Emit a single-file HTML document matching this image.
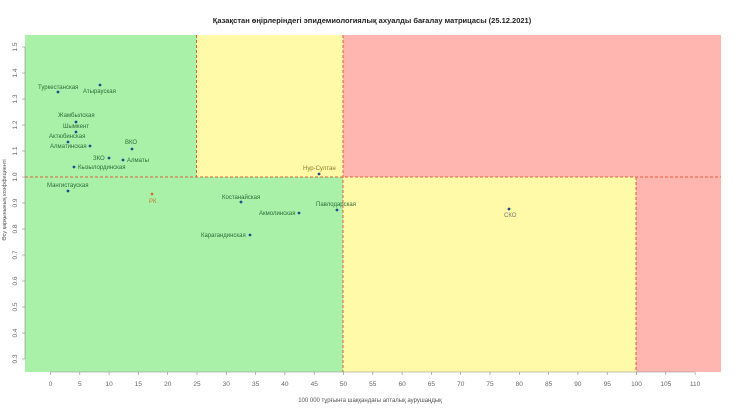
<!DOCTYPE html>
<html><head><meta charset="utf-8"><style>
body{margin:0;background:#fff;}
svg{display:block;font-family:"Liberation Sans",sans-serif;}
</style></head><body>
<svg width="740" height="414" xmlns="http://www.w3.org/2000/svg">
<rect width="740" height="414" fill="#fff"/>
<text x="372" y="23" text-anchor="middle" font-size="7.5" font-weight="bold" fill="#222">Қазақстан өңірлеріндегі эпидемиологиялық ахуалды бағалау матрицасы  (25.12.2021)</text>
<!-- zones -->
<rect x="25" y="35" width="171.5" height="142" fill="#a9f0a9"/>
<rect x="196.5" y="35" width="146.5" height="142" fill="#fffaa8"/>
<rect x="343" y="35" width="378" height="142" fill="#ffb5b0"/>
<rect x="25" y="177" width="318" height="195" fill="#a9f0a9"/>
<rect x="343" y="177" width="293" height="195" fill="#fffaa8"/>
<rect x="636" y="177" width="85" height="195" fill="#ffb5b0"/>
<g stroke="#e0603a" stroke-width="1" stroke-dasharray="3,2" fill="none">
<line x1="25" y1="177" x2="721" y2="177"/>
<line x1="196.5" y1="35" x2="196.5" y2="177"/>
<line x1="343" y1="35" x2="343" y2="372"/>
<line x1="636" y1="177" x2="636" y2="372"/>
</g>
<g stroke="#888" stroke-width="0.6">
<line x1="50.5" y1="372" x2="694.5" y2="372"/>
<line x1="50.5" y1="372" x2="50.5" y2="375"/><line x1="79.8" y1="372" x2="79.8" y2="375"/><line x1="109.1" y1="372" x2="109.1" y2="375"/><line x1="138.4" y1="372" x2="138.4" y2="375"/><line x1="167.7" y1="372" x2="167.7" y2="375"/><line x1="197" y1="372" x2="197" y2="375"/><line x1="226.3" y1="372" x2="226.3" y2="375"/><line x1="255.6" y1="372" x2="255.6" y2="375"/><line x1="284.9" y1="372" x2="284.9" y2="375"/><line x1="314.2" y1="372" x2="314.2" y2="375"/><line x1="343.5" y1="372" x2="343.5" y2="375"/><line x1="372.8" y1="372" x2="372.8" y2="375"/><line x1="402.1" y1="372" x2="402.1" y2="375"/><line x1="431.4" y1="372" x2="431.4" y2="375"/><line x1="460.7" y1="372" x2="460.7" y2="375"/><line x1="490" y1="372" x2="490" y2="375"/><line x1="519.3" y1="372" x2="519.3" y2="375"/><line x1="548.6" y1="372" x2="548.6" y2="375"/><line x1="577.9" y1="372" x2="577.9" y2="375"/><line x1="607.2" y1="372" x2="607.2" y2="375"/><line x1="636.5" y1="372" x2="636.5" y2="375"/><line x1="665.8" y1="372" x2="665.8" y2="375"/><line x1="695.1" y1="372" x2="695.1" y2="375"/>
<line x1="25" y1="47" x2="25" y2="359"/>
<line x1="22" y1="47" x2="25" y2="47"/><line x1="22" y1="73" x2="25" y2="73"/><line x1="22" y1="99" x2="25" y2="99"/><line x1="22" y1="125" x2="25" y2="125"/><line x1="22" y1="151" x2="25" y2="151"/><line x1="22" y1="177" x2="25" y2="177"/><line x1="22" y1="203" x2="25" y2="203"/><line x1="22" y1="229" x2="25" y2="229"/><line x1="22" y1="255" x2="25" y2="255"/><line x1="22" y1="281" x2="25" y2="281"/><line x1="22" y1="307" x2="25" y2="307"/><line x1="22" y1="333" x2="25" y2="333"/><line x1="22" y1="359" x2="25" y2="359"/>
</g>
<g font-size="6.5" fill="#666" text-anchor="middle">
<text x="50.5" y="386">0</text><text x="79.8" y="386">5</text><text x="109.1" y="386">10</text><text x="138.4" y="386">15</text><text x="167.7" y="386">20</text><text x="197" y="386">25</text><text x="226.3" y="386">30</text><text x="255.6" y="386">35</text><text x="284.9" y="386">40</text><text x="314.2" y="386">45</text><text x="343.5" y="386">50</text><text x="372.8" y="386">55</text><text x="402.1" y="386">60</text><text x="431.4" y="386">65</text><text x="460.7" y="386">70</text><text x="490" y="386">75</text><text x="519.3" y="386">80</text><text x="548.6" y="386">85</text><text x="577.9" y="386">90</text><text x="607.2" y="386">95</text><text x="636.5" y="386">100</text><text x="665.8" y="386">105</text><text x="695.1" y="386">110</text>
</g>
<g font-size="6.5" fill="#666" text-anchor="middle">
<text transform="translate(17,47) rotate(-90)">1.5</text><text transform="translate(17,73) rotate(-90)">1.4</text><text transform="translate(17,99) rotate(-90)">1.3</text><text transform="translate(17,125) rotate(-90)">1.2</text><text transform="translate(17,151) rotate(-90)">1.1</text><text transform="translate(17,177) rotate(-90)">1.0</text><text transform="translate(17,203) rotate(-90)">0.9</text><text transform="translate(17,229) rotate(-90)">0.8</text><text transform="translate(17,255) rotate(-90)">0.7</text><text transform="translate(17,281) rotate(-90)">0.6</text><text transform="translate(17,307) rotate(-90)">0.5</text><text transform="translate(17,333) rotate(-90)">0.4</text><text transform="translate(17,359) rotate(-90)">0.3</text>
</g>
<text x="370" y="402" text-anchor="middle" font-size="6" fill="#555">100 000 тұрғынға шаққандағы апталық аурушаңдық</text>
<text transform="translate(6,200) rotate(-90)" text-anchor="middle" font-size="5.5" fill="#555">Өсу қарқынының коэффициенті</text>
<g fill="#1c4f8a">
<circle cx="58" cy="92" r="1.4"/><circle cx="100" cy="85" r="1.4"/><circle cx="76" cy="122" r="1.4"/><circle cx="76" cy="132" r="1.4"/><circle cx="68" cy="142" r="1.4"/><circle cx="90" cy="146" r="1.4"/><circle cx="132" cy="149" r="1.4"/><circle cx="109" cy="158" r="1.4"/><circle cx="123" cy="160" r="1.4"/><circle cx="74" cy="167" r="1.4"/><circle cx="319" cy="174" r="1.4"/><circle cx="68" cy="191" r="1.4"/><circle cx="241" cy="202" r="1.4"/><circle cx="337" cy="210" r="1.4"/><circle cx="299" cy="213" r="1.4"/><circle cx="250" cy="235" r="1.4"/><circle cx="509" cy="209" r="1.4"/>
</g>
<circle cx="152" cy="194" r="1.4" fill="#d07030"/>
<g font-size="6" fill="#2f6e3a">
<text x="38" y="89">Туркестанская</text>
<text x="83" y="93">Атырауская</text>
<text x="58" y="117">Жамбылская</text>
<text x="63" y="128">Шымкент</text>
<text x="49" y="138">Актюбинская</text>
<text x="50" y="148">Алматинская</text>
<text x="125" y="144">ВКО</text>
<text x="93" y="160">ЗКО</text>
<text x="127" y="162">Алматы</text>
<text x="78" y="169">Кызылординская</text>
<text x="47" y="187">Мангистауская</text>
<text x="222" y="199">Костанайская</text>
<text x="316" y="206">Павлодарская</text>
<text x="259" y="215">Акмолинская</text>
<text x="201" y="237">Карагандинская</text>
</g>
<text x="303" y="170" font-size="6" fill="#8a7a30">Нур-Султан</text>
<text x="149" y="203" font-size="6" fill="#c08030">РК</text>
<text x="504" y="217" font-size="6" fill="#777">СКО</text>
</svg>
</body></html>
